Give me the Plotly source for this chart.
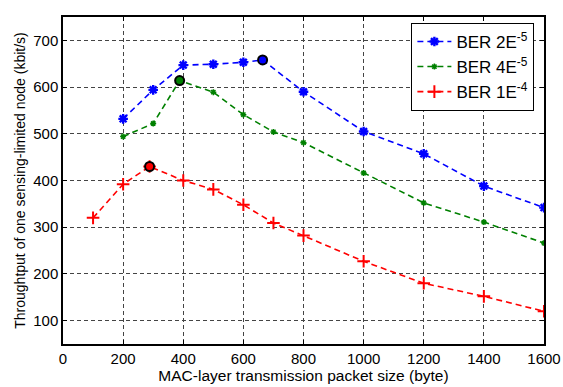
import plotly.graph_objects as go

# Data
x_blue = [200, 300, 400, 500, 600, 664, 800, 1000, 1200, 1400, 1600]
y_blue = [532, 594, 647, 649, 653, 658, 590, 505, 457, 388, 342]
x_green = [200, 300, 388, 500, 600, 700, 800, 1000, 1200, 1400, 1600]
y_green = [494, 522, 614, 589, 541, 504, 481, 416, 352, 311, 266]
x_red = [100, 200, 288, 400, 500, 600, 700, 800, 1000, 1200, 1400, 1600]
y_red = [320, 392, 430, 400, 381, 348, 309, 282, 227, 180, 152, 120]
peak_x = [664, 388, 288]
peak_y = [658, 614, 430]
peak_colors = ["#0000ff", "#008000", "#ff0000"]
names = ["BER 2E<sup>-5</sup>", "BER 4E<sup>-5</sup>", "BER 1E<sup>-4</sup>"]
x_ticks = list(range(0, 1601, 200))
y_ticks = list(range(100, 701, 100))

fig = go.Figure()
fig.add_trace(go.Scatter(x=x_blue, y=y_blue, mode="lines+markers", name=names[0],
                         line=dict(color="#0000ff", width=1.6, dash="6px,4px"),
                         marker=dict(symbol="asterisk-open", size=8, color="#0000ff",
                                     line=dict(color="#0000ff", width=2.4))))
fig.add_trace(go.Scatter(x=x_green, y=y_green, mode="lines+markers", name=names[1],
                         line=dict(color="#008000", width=1.6, dash="6px,4px"),
                         marker=dict(symbol="asterisk-open", size=5, color="#008000",
                                     line=dict(color="#008000", width=1.5))))
fig.add_trace(go.Scatter(x=x_red, y=y_red, mode="lines+markers", name=names[2],
                         line=dict(color="#ff0000", width=1.6, dash="6px,4px"),
                         marker=dict(symbol="cross-thin-open", size=9, color="#ff0000",
                                     line=dict(color="#ff0000", width=2))))
fig.add_trace(go.Scatter(x=peak_x, y=peak_y, mode="markers", showlegend=False,
                         marker=dict(symbol="circle", size=9, color=peak_colors,
                                     line=dict(color="black", width=2))))

axis_common = dict(showline=True, linecolor="black", linewidth=1.5, mirror="ticks",
                   ticks="inside", ticklen=4, tickcolor="black", automargin=False,
                   showgrid=True, gridcolor="#444444", griddash="4px,3px", gridwidth=1,
                   zeroline=False, tickfont=dict(size=15, color="black"))

fig.update_xaxes(range=[0, 1600], tickvals=x_ticks,
                 title=dict(text="MAC-layer transmission packet size (byte)",
                            font=dict(size=15.5, color="black"), standoff=2),
                 **axis_common)
fig.update_yaxes(range=[50, 750], tickvals=y_ticks,
                 title=dict(text="Throughtput of one sensing-limited node (kbit/s)",
                            font=dict(size=14, color="black"), standoff=4),
                 **axis_common)

fig.update_layout(
    width=563, height=387,
    margin=dict(l=63, r=19, t=17, b=43),
    paper_bgcolor="white", plot_bgcolor="white",
    font=dict(family="Arial, Liberation Sans, sans-serif", size=14, color="black"),
    legend=dict(x=0.98, y=0.982, xanchor="right", yanchor="top",
                bgcolor="white", bordercolor="black", borderwidth=1,
                font=dict(size=17), itemwidth=34, tracegroupgap=0),
)

fig.write_html("out.html", config={"displayModeBar": False},
               post_script="document.body.style.margin='0px';")
